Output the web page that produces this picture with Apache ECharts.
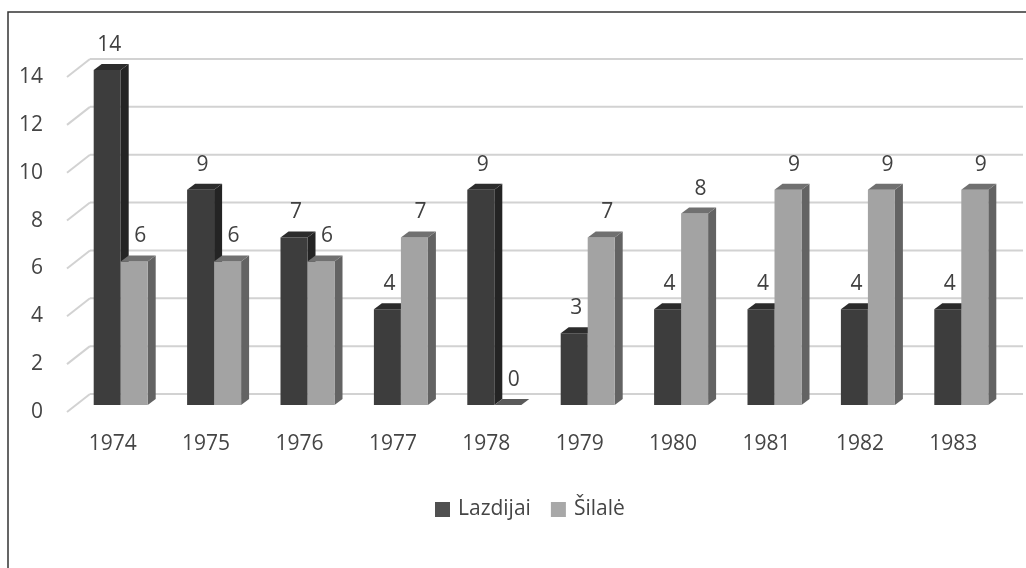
<!DOCTYPE html>
<html>
<head>
<meta charset="utf-8">
<script src="https://cdn.jsdelivr.net/npm/echarts@6/dist/echarts.min.js"></script>
<style>html,body{margin:0;padding:0;background:#fff}#c{width:1026px;height:568px}</style>
</head>
<body>
<div id="c"></div>
<script>
const categories = ['1974','1975','1976','1977','1978','1979','1980','1981','1982','1983'];
const lazdijai = [14, 9, 7, 4, 9, 3, 4, 4, 4, 4];
const silale = [6, 6, 6, 7, 0, 7, 8, 9, 9, 9];
const seriesNames = ['Lazdijai', 'Šilalė'];
const yTicks = [0, 2, 4, 6, 8, 10, 12, 14];

const FONT = '"Open Sans", sans-serif';
const TXT = '#454545';
const BAR_W = 27, DX = 8, DY = 6, SHIFT_X = 8, SHIFT_Y = 7;
const palettes = [
  {front: '#3d3d3d', side: '#242424', top: '#2c2c2c', legend: '#505050'},
  {front: '#a3a3a3', side: '#636363', top: '#707070', legend: '#a8a8a8'}
];

function barRender(s) {
  return function (params, api) {
    const i = api.value(0), v = api.value(1);
    const base = api.coord([i, 0]);
    const topP = api.coord([i, v]);
    const xc = base[0] + SHIFT_X;
    const x0 = xc - BAR_W + s * BAR_W, x1 = x0 + BAR_W;
    const yb = base[1] - SHIFT_Y, yt = topP[1] - SHIFT_Y;
    const p = palettes[s];
    const children = [];
    if (yb - yt > 0.5) {
      children.push({type: 'polygon', shape: {points: [[x1, yt], [x1 + DX, yt - DY], [x1 + DX, yb - DY], [x1, yb]]}, style: {fill: p.side}});
      children.push({type: 'rect', shape: {x: x0, y: yt, width: BAR_W, height: yb - yt}, style: {fill: p.front}});
    }
    children.push({type: 'polygon', shape: {points: [[x0, yt], [x1, yt], [x1 + DX, yt - DY], [x0 + DX, yt - DY]]}, style: {fill: v === 0 ? '#5a5a5a' : p.top}});
    children.push({type: 'text', style: {text: String(v), x: (x0 + x1) / 2 + 2 + s * 4, y: yt - 25, textAlign: 'center', textVerticalAlign: 'middle', font: '21px ' + FONT, fill: '#404040'}});
    return {type: 'group', children: children};
  };
}

function gridRender(params, api) {
  const v = api.value(1);
  const p = api.coord([0, v]);
  const cs = params.coordSys;
  const xl = cs.x, y = p[1];
  const c = '#d2d2d2';
  return {type: 'group', children: [
    {type: 'line', shape: {x1: xl + 1, y1: y, x2: xl + 24, y2: y - 18}, style: {stroke: c, lineWidth: 2}},
    {type: 'line', shape: {x1: xl + 24, y1: y - 18, x2: cs.x + cs.width + 23, y2: y - 18}, style: {stroke: c, lineWidth: 2}}
  ]};
}

const chart = echarts.init(document.getElementById('c'), null, {renderer: 'canvas'});
chart.setOption({
  animation: false,
  backgroundColor: '#fff',
  textStyle: {fontFamily: FONT},
  graphic: [
    {type: 'polyline', shape: {points: [[8, 568], [8, 12], [1026, 12]]}, style: {stroke: '#333', lineWidth: 1.5, fill: null}}
  ],
  grid: {left: 66, right: 26, top: 77, bottom: 156},
  legend: {
    data: seriesNames,
    left: 430, top: 494,
    itemWidth: 15, itemHeight: 15, itemGap: 20,
    icon: 'rect',
    textStyle: {fontSize: 21, color: TXT, fontFamily: FONT, padding: [0, 0, 0, 3]}
  },
  xAxis: {
    type: 'category', data: categories, boundaryGap: true,
    axisLine: {show: false}, axisTick: {show: false},
    axisLabel: {margin: 22, fontSize: 21, color: TXT, fontFamily: FONT}
  },
  yAxis: {
    type: 'value', min: 0, max: 14, interval: 2,
    axisLine: {show: false}, axisTick: {show: false}, splitLine: {show: false},
    axisLabel: {margin: 23, fontSize: 21, color: TXT, fontFamily: FONT}
  },
  series: [
    {type: 'custom', name: '_grid', silent: true, z: 1, clip: false, renderItem: gridRender,
     data: yTicks.map(t => [0, t]), encode: {x: 0, y: 1}},
    {type: 'custom', name: seriesNames[0], z: 2, clip: false, renderItem: barRender(0),
     itemStyle: {color: palettes[0].legend},
     data: lazdijai.map((v, i) => [i, v]), encode: {x: 0, y: 1}},
    {type: 'custom', name: seriesNames[1], z: 3, clip: false, renderItem: barRender(1),
     itemStyle: {color: palettes[1].legend},
     data: silale.map((v, i) => [i, v]), encode: {x: 0, y: 1}}
  ]
});
</script>
</body>
</html>
